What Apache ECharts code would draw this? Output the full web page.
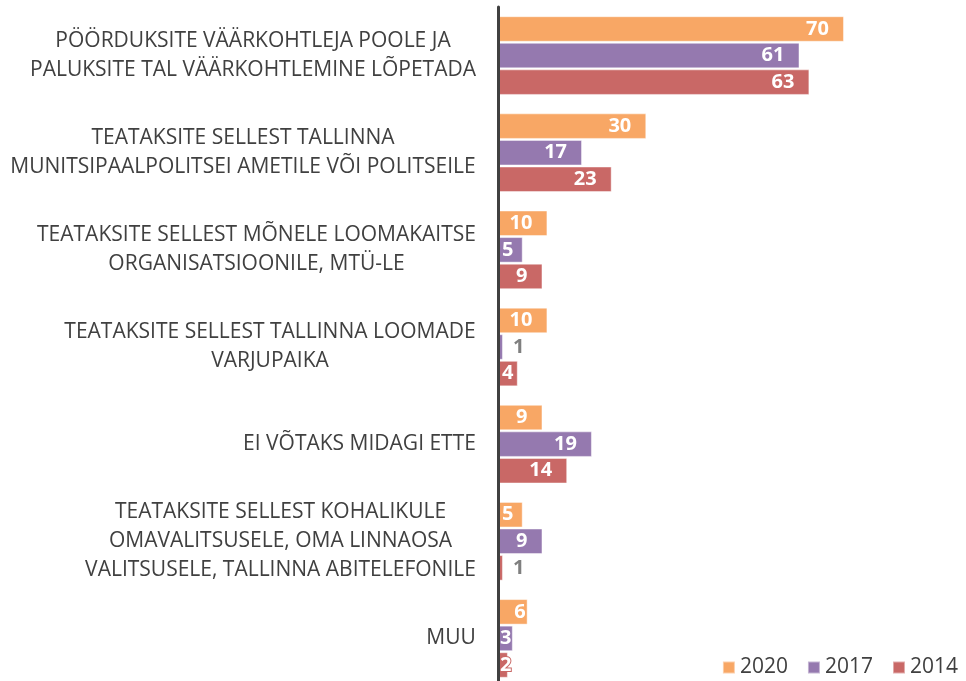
<!DOCTYPE html>
<html>
<head>
<meta charset="utf-8">
<script src="https://cdn.jsdelivr.net/npm/echarts@6/dist/echarts.min.js"></script>
<style>
  html, body { margin: 0; padding: 0; background: #fff; overflow: hidden; }
  #main { width: 966px; height: 700px; }
</style>
</head>
<body>
<div id="main"></div>
<script>
const categories = [
  'PÖÖRDUKSITE VÄÄRKOHTLEJA POOLE JA\nPALUKSITE TAL VÄÄRKOHTLEMINE LÕPETADA',
  'TEATAKSITE SELLEST TALLINNA\nMUNITSIPAALPOLITSEI AMETILE VÕI POLITSEILE',
  'TEATAKSITE SELLEST MÕNELE LOOMAKAITSE\nORGANISATSIOONILE, MTÜ-LE',
  'TEATAKSITE SELLEST TALLINNA LOOMADE\nVARJUPAIKA',
  'EI VÕTAKS MIDAGI ETTE',
  'TEATAKSITE SELLEST KOHALIKULE\nOMAVALITSUSELE, OMA LINNAOSA\nVALITSUSELE, TALLINNA ABITELEFONILE',
  'MUU'
];
const seriesNames = ['2020', '2017', '2014'];
const values2020 = [70, 30, 10, 10, 9, 5, 6];
const values2017 = [61, 17, 5, 1, 19, 9, 3];
const values2014 = [63, 23, 9, 4, 14, 1, 2];

const colors = ['#F8A765', '#9579AF', '#C96866'];
const textColor = '#404040';
const catFont = 21;

// measure each label so its lines can be centred inside a right-aligned block
const ctx = document.createElement('canvas').getContext('2d');
ctx.font = catFont + 'px "Open Sans"';
const rich = {};
categories.forEach((c, i) => {
  const w = Math.max(...c.split('\n').map(l => ctx.measureText(l).width));
  rich['c' + i] = {
    width: Math.ceil(w) + 2,
    align: 'center',
    fontSize: catFont,
    lineHeight: 29,
    fontFamily: 'Open Sans',
    color: textColor
  };
});

function withLabels(values, color) {
  return values.map(v => {
    if (v <= 1) {
      return { value: v, label: { position: 'right', distance: 10, color: '#7F7F7F' } };
    }
    if (v <= 3) {
      // digit is wider than the bar: outline it in the bar colour so it stays readable
      return { value: v, label: { position: [2, '50%'], align: 'left', verticalAlign: 'middle',
        textBorderColor: color, textBorderWidth: 2 } };
    }
    if (v <= 5) {
      return { value: v, label: { position: [4, '50%'], align: 'left', verticalAlign: 'middle' } };
    }
    if (v < 9) {
      return { value: v, label: { position: 'insideRight', distance: 2 } };
    }
    return v;
  });
}

const allValues = [values2020, values2017, values2014];

const chart = echarts.init(document.getElementById('main'));
chart.setOption({
  animation: false,
  color: colors,
  grid: { left: 498, top: 7, width: 395.4, height: 680 },
  legend: {
    data: seriesNames,
    right: 3,
    top: 652,
    icon: 'rect',
    itemWidth: 12,
    itemHeight: 12,
    itemGap: 19,
    textStyle: { fontSize: 21, color: textColor, fontFamily: 'Open Sans' }
  },
  xAxis: {
    type: 'value',
    min: 0,
    max: 80,
    show: false
  },
  yAxis: {
    type: 'category',
    inverse: true,
    data: categories,
    z: 5,
    axisTick: { show: false },
    axisLine: { lineStyle: { color: textColor, width: 3 } },
    axisLabel: {
      margin: 21,
      formatter: (value, index) =>
        value.split('\n').map(l => '{c' + index + '|' + l + '}').join('\n'),
      rich: rich
    }
  },
  series: seriesNames.map((name, i) => ({
    name: name,
    type: 'bar',
    barCategoryGap: '19%',
    barGap: '4%',
    data: withLabels(allValues[i], colors[i]),
    itemStyle: { borderColor: 'rgba(255,255,255,0.45)', borderWidth: 1 },
    label: {
      show: true,
      position: 'insideRight',
      distance: 15,
      overflow: 'none',
      color: '#fff',
      fontWeight: 'bold',
      fontSize: 20,
      fontFamily: 'Open Sans'
    }
  }))
});
</script>
</body>
</html>
